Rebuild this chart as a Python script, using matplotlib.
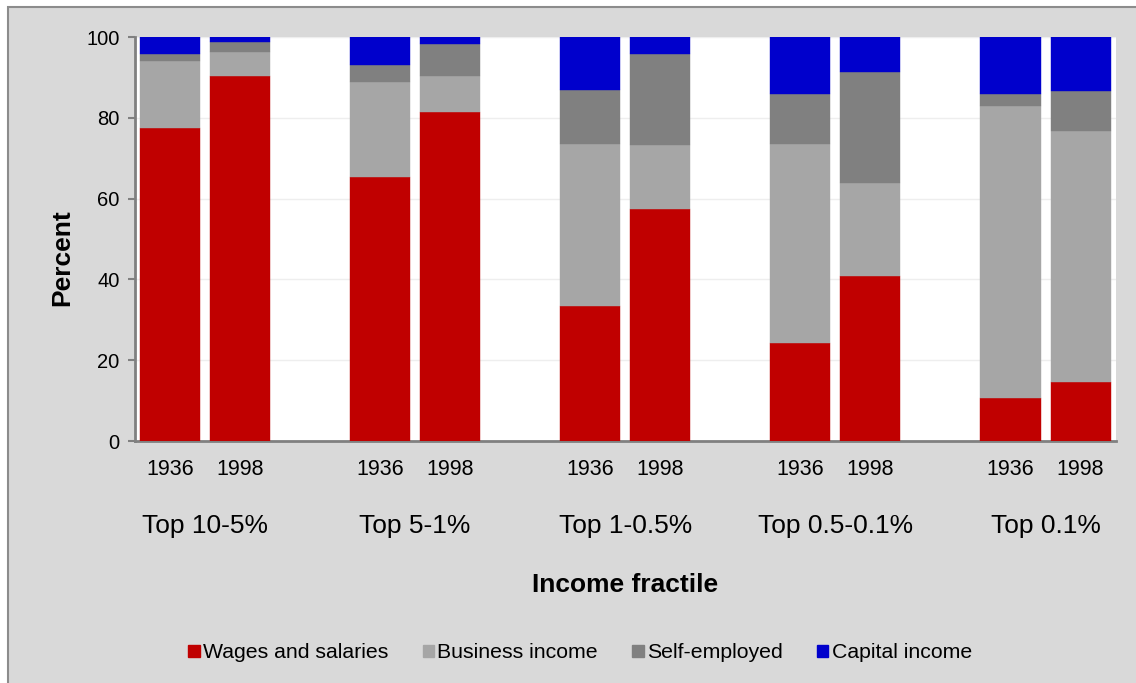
import matplotlib
matplotlib.use("Agg")
import matplotlib.pyplot as plt
from matplotlib.patches import Patch, Rectangle
import numpy as np

plt.rcParams['font.family'] = ['Liberation Sans', 'DejaVu Sans']

# data (percent of income)
groups = ["Top 10-5%", "Top 5-1%", "Top 1-0.5%", "Top 0.5-0.1%", "Top 0.1%"]
years = ["1936", "1998"]
wages = [77.5, 90.4, 65.4, 81.5, 33.5, 57.5, 24.3, 40.8, 10.7, 14.6]
business = [16.5, 5.9, 23.5, 8.8, 40.1, 15.8, 49.2, 23.1, 72.2, 62.1]
self_employed = [1.8, 2.5, 4.2, 8.0, 13.4, 22.4, 12.3, 27.4, 3.1, 9.9]
capital = [4.2, 1.2, 6.9, 1.7, 13.0, 4.3, 14.2, 8.7, 14.0, 13.4]

series = [
    ("Wages and salaries", wages, "#c00000"),
    ("Business income", business, "#a6a6a6"),
    ("Self-employed", self_employed, "#808080"),
    ("Capital income", capital, "#0000cc"),
]

fig = plt.figure(figsize=(11.36, 6.83), dpi=100)
fig.patch.set_facecolor("white")
fig.patches.append(Rectangle((0.007, -0.1), 1.1, 0.9898 + 0.1, transform=fig.transFigure,
                             facecolor="#d9d9d9", edgecolor="#8c8c8c", lw=1.5, zorder=-10))

ax = fig.add_axes([0.1188, 0.3543, 0.8632, 0.5915])
ax.set_facecolor("white")

# two bars per group, one empty slot between groups
x = []
for g in range(len(groups)):
    x += [3 * g, 3 * g + 1]
x = np.array(x)

bottom = np.zeros(len(x))
for name, vals, col in series:
    vals = np.array(vals)
    ax.bar(x, vals, bottom=bottom, width=0.857, color=col, edgecolor=col, lw=0.3, zorder=3)
    bottom += vals

ax.set_xlim(-0.5, 13.5)
ax.set_ylim(0, 100)
ax.set_yticks(range(0, 101, 20))
ax.yaxis.grid(True, color="#eeeeee", lw=1, zorder=0)

ax.set_xticks(x)
ax.set_xticklabels(years * len(groups), fontsize=15.5)
ax.tick_params(axis="x", length=0, pad=13)
ax.tick_params(axis="y", labelsize=14.5, length=5, width=1.5, color="#808080", pad=6)

for s in ["top", "right"]:
    ax.spines[s].set_visible(False)
for s in ["left", "bottom"]:
    ax.spines[s].set_color("#808080")
    ax.spines[s].set_linewidth(2)

for g, name in enumerate(groups):
    ax.text(3 * g + 0.5, -0.21, name, transform=ax.get_xaxis_transform(),
            ha="center", va="center", fontsize=19)

fig.text(0.5506, 1 - 585 / 683, "Income fractile", ha="center", va="center",
         fontsize=19, fontweight="bold")
fig.text(62 / 1136, 1 - 258 / 683, "Percent", ha="center", va="center",
         fontsize=19, fontweight="bold", rotation=90)

handles = [Patch(facecolor=c, edgecolor=c, label=n) for n, _, c in series]
fig.legend(handles=handles, loc="center", bbox_to_anchor=(580 / 1136, 1 - 653 / 683),
           ncol=4, frameon=False, fontsize=15.3, handlelength=0.55, handleheight=0.55,
           handletextpad=0.15, columnspacing=1.6)

fig.savefig("out.png", dpi=100, facecolor=fig.get_facecolor())
